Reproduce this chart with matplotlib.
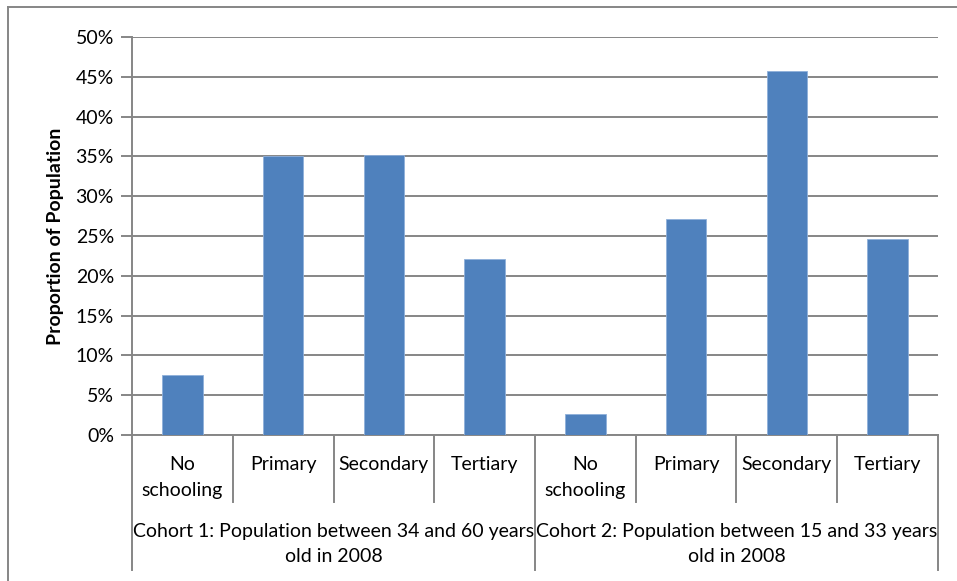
import numpy as np
import matplotlib
matplotlib.use("Agg")
import matplotlib.pyplot as plt
from matplotlib.lines import Line2D
from matplotlib.ticker import PercentFormatter
import matplotlib.transforms as mtransforms

plt.rcParams['font.family'] = ['Lato', 'DejaVu Sans']

# data
levels = ["No\nschooling", "Primary", "Secondary", "Tertiary"]
cohorts = ["Cohort 1: Population between 34 and 60 years\nold in 2008",
           "Cohort 2: Population between 15 and 33 years\nold in 2008"]
cohort1 = [7.6, 35.1, 35.2, 22.1]
cohort2 = [2.6, 27.1, 45.7, 24.6]
y_ticks = np.arange(0, 51, 5)

W, H = 957, 581
fig = plt.figure(figsize=(W / 100, H / 100), dpi=100)
x0, x1, y0, y1 = 132, 938, 435, 37
ax = fig.add_axes([x0 / W, 1 - y0 / H, (x1 - x0) / W, (y0 - y1) / H])

values = np.array(cohort1 + cohort2) / 100
xs = np.arange(len(values))
ax.bar(xs, values, width=0.4, color="#4F81BD", edgecolor="#8FB0DA", linewidth=0.6, zorder=3)

grey = "#868686"
fs = 14
ax.set_xlim(-0.5, len(values) - 0.5)
ax.set_ylim(0, 0.5)
ax.set_yticks(y_ticks / 100)
ax.yaxis.set_major_formatter(PercentFormatter(1.0, decimals=0))
ax.grid(axis="y", color=grey, linewidth=1.4, zorder=0)
ax.set_axisbelow(True)
for s in ["top", "right"]:
    ax.spines[s].set_visible(False)
for s in ["left", "bottom"]:
    ax.spines[s].set_color(grey)
    ax.spines[s].set_linewidth(1.4)
ax.tick_params(axis="y", length=8, width=1.4, color=grey, labelsize=fs, pad=5)
ax.tick_params(axis="x", length=0, labelbottom=False)
ax.set_ylabel("Proportion of Population", fontsize=fs, fontweight="bold", labelpad=8)

# multi-level category axis
trans = mtransforms.blended_transform_factory(ax.transData, ax.transAxes)
ph = y0 - y1
def fy(p):
    return (y0 - p) / ph

for b in np.arange(-0.5, len(values), 1.0):
    is_cohort = abs((b + 0.5) % len(levels)) < 1e-9
    bottom = fy(570) if is_cohort else fy(502)
    ax.add_line(Line2D([b, b], [0, bottom], transform=trans, color=grey,
                       linewidth=1.4, clip_on=False))

for i, x in enumerate(xs):
    ax.text(x, fy(456), levels[i % len(levels)], transform=trans, ha="center",
            va="top", fontsize=fs, linespacing=1.65)

for j, label in enumerate(cohorts):
    xc = j * len(levels) + (len(levels) - 1) / 2
    ax.text(xc, fy(523), label, transform=trans, ha="center", va="top",
            fontsize=fs, linespacing=1.55)

# outer chart frame (cropped at right and bottom)
fig.add_artist(Line2D([8 / W, 1], [1 - 7 / H, 1 - 7 / H], transform=fig.transFigure,
                      color=grey, linewidth=1.4))
fig.add_artist(Line2D([8 / W, 8 / W], [0, 1 - 7 / H], transform=fig.transFigure,
                      color=grey, linewidth=1.4))

fig.savefig("out.png", dpi=100)
